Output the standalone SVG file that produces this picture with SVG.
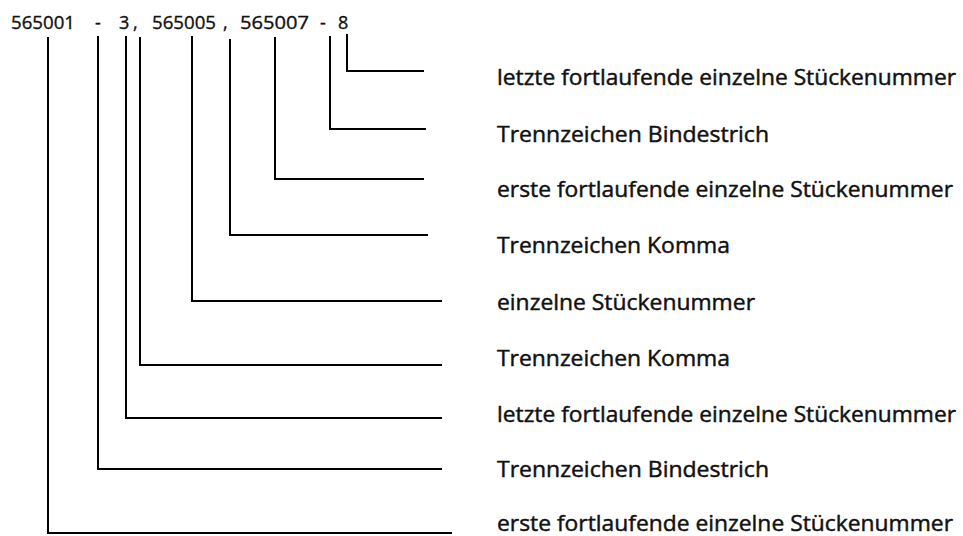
<svg xmlns="http://www.w3.org/2000/svg" width="963" height="536" viewBox="0 0 963 536">
  <style>
    .num { font-family: "Open Sans", "Liberation Sans", sans-serif; font-size: 18px; fill: #111; stroke: #111; stroke-width: 0.35; }
    .lbl { font-family: "Open Sans", "Liberation Sans", sans-serif; font-size: 21.5px; fill: #111; stroke: #111; stroke-width: 0.45; }
    .ln { fill: none; stroke: #000; stroke-width: 2; }
  </style>
  <rect width="963" height="536" fill="#fff"/>

  <!-- number sequence -->
  <g id="sequence">
    <text class="num" x="11" y="29" textLength="64" lengthAdjust="spacingAndGlyphs">565001</text>
    <text class="num" x="95" y="29">-</text>
    <text class="num" x="119" y="29">3</text>
    <text class="num" x="133" y="29">,</text>
    <text class="num" x="152" y="29" textLength="64" lengthAdjust="spacingAndGlyphs">565005</text>
    <text class="num" x="223" y="29">,</text>
    <text class="num" x="240" y="29" textLength="69" lengthAdjust="spacingAndGlyphs">565007</text>
    <text class="num" x="320" y="29">-</text>
    <text class="num" x="338" y="29">8</text>
  </g>

  <!-- leader lines -->
  <g id="connectors">
    <polyline class="ln" points="347,34 347,71 424,71"/>
    <polyline class="ln" points="330,36 330,129 426,129"/>
    <polyline class="ln" points="275,37 275,179 424,179"/>
    <polyline class="ln" points="230,39 230,235 428,235"/>
    <polyline class="ln" points="192,36 192,301 442,301"/>
    <polyline class="ln" points="140,37 140,365 442,365"/>
    <polyline class="ln" points="126,36 126,418 442,418"/>
    <polyline class="ln" points="98,36 98,469 442,469"/>
    <polyline class="ln" points="48,37 48,533 452,533"/>
  </g>

  <!-- labels -->
  <g id="label-1"><text class="lbl" x="497" y="85" textLength="459" lengthAdjust="spacingAndGlyphs">letzte fortlaufende einzelne Stückenummer</text></g>
  <g id="label-2"><text class="lbl" x="497" y="142" textLength="272" lengthAdjust="spacingAndGlyphs">Trennzeichen Bindestrich</text></g>
  <g id="label-3"><text class="lbl" x="497" y="197" textLength="456" lengthAdjust="spacingAndGlyphs">erste fortlaufende einzelne Stückenummer</text></g>
  <g id="label-4"><text class="lbl" x="497" y="253" textLength="233" lengthAdjust="spacingAndGlyphs">Trennzeichen Komma</text></g>
  <g id="label-5"><text class="lbl" x="497" y="310" textLength="258" lengthAdjust="spacingAndGlyphs">einzelne Stückenummer</text></g>
  <g id="label-6"><text class="lbl" x="497" y="366" textLength="233" lengthAdjust="spacingAndGlyphs">Trennzeichen Komma</text></g>
  <g id="label-7"><text class="lbl" x="497" y="422" textLength="459" lengthAdjust="spacingAndGlyphs">letzte fortlaufende einzelne Stückenummer</text></g>
  <g id="label-8"><text class="lbl" x="497" y="477" textLength="272" lengthAdjust="spacingAndGlyphs">Trennzeichen Bindestrich</text></g>
  <g id="label-9"><text class="lbl" x="497" y="531" textLength="456" lengthAdjust="spacingAndGlyphs">erste fortlaufende einzelne Stückenummer</text></g>
</svg>
